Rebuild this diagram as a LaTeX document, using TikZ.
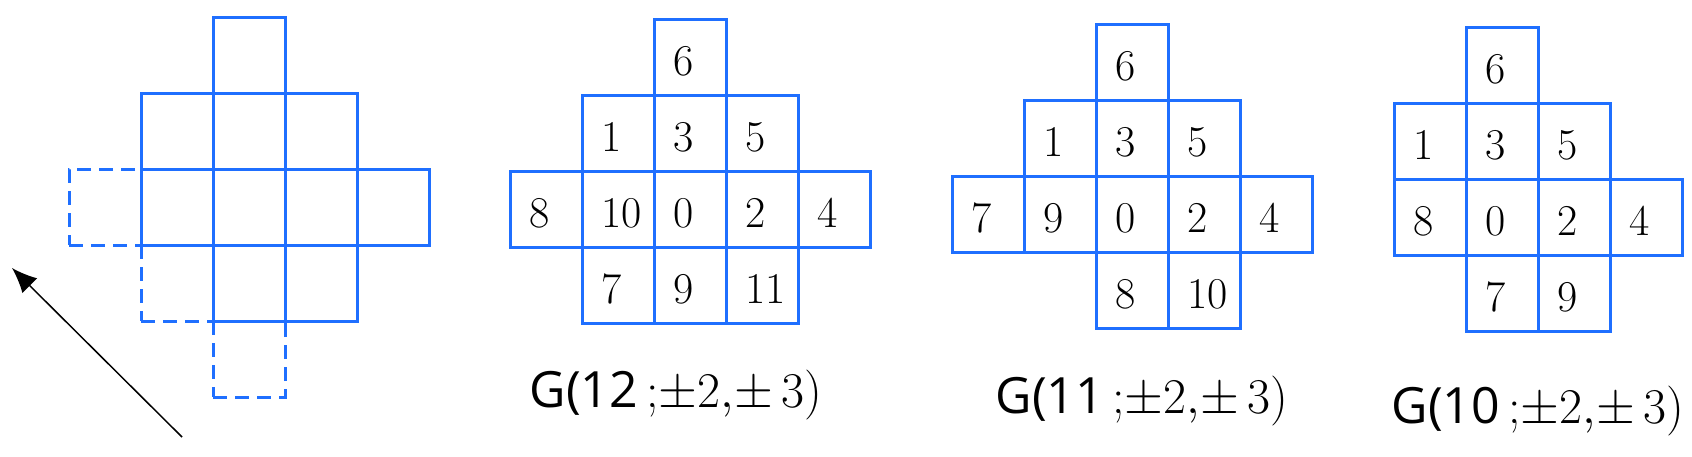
\documentclass[tikz,border=0pt]{standalone}
\usepackage{fix-cm}
\usepackage{fontspec}
\newfontfamily\capfont{Open Sans}
\usetikzlibrary{arrows.meta}
\definecolor{gridblue}{RGB}{31,111,255}

\tikzset{
  cell/.style={draw=gridblue, line width=1.5pt, minimum width=36pt, minimum height=38pt,
    inner sep=0pt, text width=17pt, align=left, text height=18.7pt, text depth=0pt,
    font=\fontsize{22}{26}\selectfont},
  ghost/.style={cell, dash pattern=on 7pt off 4pt},
  caption/.style={anchor=base, inner sep=0pt, font=\fontsize{25}{30}\selectfont},
  pointer/.style={line width=0.75pt, -{Latex[length=12.5pt,width=10.5pt]}}
}

\begin{document}
\begin{tikzpicture}[x=0.5pt, y=-0.5pt]
  \useasboundingbox (0,0) rectangle (1692,456);

  % empty pattern, the three moved cells dashed
  \foreach \c/\r/\n in {-1/2/d1, 0/3/d2, 1/4/d3}
    \node[ghost] (\n) at ({141+72*\c+36},{17+76*\r+38}) {};
  \foreach \c/\r/\n in {1/0/s1, 0/1/s2, 1/1/s3, 2/1/s4, 0/2/s5, 1/2/s6, 2/2/s7, 3/2/s8, 1/3/s9, 2/3/s10}
    \node[cell] (\n) at ({141+72*\c+36},{17+76*\r+38}) {};

  \coordinate (tail) at (182,437);
  \coordinate (tip) at (12,268);
  \draw[pointer] (tail) -- (tip);

  % G(12;+-2,+-3)
  \foreach \c/\r/\t in {1/0/6, 0/1/1, 1/1/3, 2/1/5, -1/2/8, 0/2/10, 1/2/0, 2/2/2, 3/2/4, 0/3/7, 1/3/9, 2/3/11}
    \node[cell] (g12-\t) at ({582+72*\c+36},{19+76*\r+38}) {\t};
  \node[caption] (l12) at (676,407) {{\capfont G(12}$\,{;}{\pm}2{,}{\pm}\,3)$};

  % G(11;+-2,+-3)
  \foreach \c/\r/\t in {1/0/6, 0/1/1, 1/1/3, 2/1/5, -1/2/7, 0/2/9, 1/2/0, 2/2/2, 3/2/4, 1/3/8, 2/3/10}
    \node[cell] (g11-\t) at ({1024+72*\c+36},{24+76*\r+38}) {\t};
  \node[caption] (l11) at (1142,413) {{\capfont G(11}$\,{;}{\pm}2{,}{\pm}\,3)$};

  % G(10;+-2,+-3)
  \foreach \c/\r/\t in {1/0/6, 0/1/1, 1/1/3, 2/1/5, 0/2/8, 1/2/0, 2/2/2, 3/2/4, 1/3/7, 2/3/9}
    \node[cell] (g10-\t) at ({1394+72*\c+36},{27+76*\r+38}) {\t};
  \node[caption] (l10) at (1538,423) {{\capfont G(10}$\,{;}{\pm}2{,}{\pm}\,3)$};
\end{tikzpicture}
\end{document}
